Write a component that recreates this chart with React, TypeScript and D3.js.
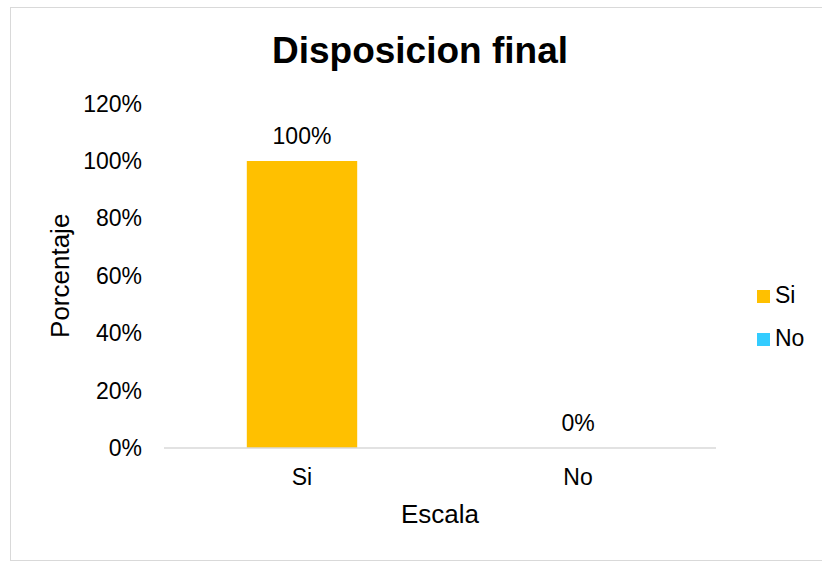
import React from "react";
import * as d3 from "d3";

const categories = ["Si", "No"];
const values = [1.0, 0.0];
const colors = ["#FFC000", "#33CCFF"];
const yTicks = [0, 0.2, 0.4, 0.6, 0.8, 1.0, 1.2];
const title = "Disposicion final";
const xTitle = "Escala";
const yTitle = "Porcentaje";

export default function App() {
  const W = 822;
  const H = 562;
  const plot = { left: 164, right: 716, top: 103.6, bottom: 448 };
  const x = d3.scaleBand<string>().domain(categories).range([plot.left, plot.right]).padding(0);
  const y = d3.scaleLinear().domain([0, 1.2]).range([plot.bottom, plot.top]);
  const barW = x.bandwidth() * 0.4;
  const fmt = d3.format(".0%");
  const font = "Liberation Sans, Arial, sans-serif";

  return (
    <svg width={W} height={H} style={{ position: "absolute", left: 0, top: 0 }} fontFamily={font}>
      <rect x={0} y={0} width={W} height={H} fill="#fff" />
      <rect x={10.5} y={7.5} width={830} height={553} fill="#fff" stroke="#d9d9d9" strokeWidth={1} />
      <text x={420} y={63} textAnchor="middle" fontSize={37} fontWeight="bold" fill="#000">
        {title}
      </text>
      {yTicks.map((t) => (
        <text key={t} x={142} y={y(t)} dy="0.35em" textAnchor="end" fontSize={23} fill="#000">
          {fmt(t)}
        </text>
      ))}
      {categories.map((c, i) => {
        const cx = (x(c) as number) + x.bandwidth() / 2;
        return (
          <g key={c}>
            <rect
              x={cx - barW / 2}
              y={y(values[i])}
              width={barW}
              height={y(0) - y(values[i])}
              fill={colors[i]}
            />
            <text x={cx} y={y(values[i]) - 17} textAnchor="middle" fontSize={23} fill="#000">
              {fmt(values[i])}
            </text>
            <text x={cx} y={485} textAnchor="middle" fontSize={23} fill="#000">
              {c}
            </text>
          </g>
        );
      })}
      <line x1={plot.left} x2={plot.right} y1={y(0)} y2={y(0)} stroke="#d9d9d9" strokeWidth={1.5} />
      <text x={(plot.left + plot.right) / 2} y={523} textAnchor="middle" fontSize={26} fill="#000">
        {xTitle}
      </text>
      <text
        transform={`translate(69,${(plot.top + plot.bottom) / 2}) rotate(-90)`}
        textAnchor="middle"
        fontSize={26}
        fill="#000"
      >
        {yTitle}
      </text>
      {categories.map((c, i) => (
        <g key={"lg" + c}>
          <rect x={757} y={290 + i * 43} width={13} height={13} fill={colors[i]} />
          <text x={775} y={303 + i * 43} fontSize={23} fill="#000">
            {c}
          </text>
        </g>
      ))}
    </svg>
  );
}
